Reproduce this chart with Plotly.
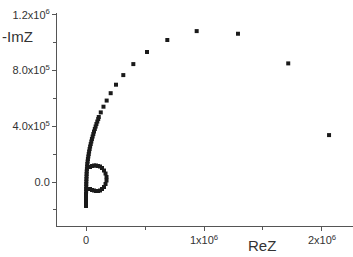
import plotly.graph_objects as go

# Low-frequency arc (discrete points), Re Z and -Im Z in ohm
arc_re = [2.06e6, 1.714e6, 1.288e6, 0.938e6, 0.689e6, 0.517e6, 0.401e6, 0.316e6,
          0.254e6, 0.209e6, 0.175e6, 0.148e6, 0.125e6, 0.108e6]
arc_im = [3.37e5, 8.52e5, 1.065e6, 1.084e6, 1.020e6, 0.934e6, 0.847e6, 0.768e6,
          0.699e6, 0.638e6, 0.585e6, 0.541e6, 0.500e6, 0.467e6]

# Dense high-frequency branch
dense_re = [103.4e3, 95.8e3, 88.1e3, 81.4e3, 74.6e3, 67.8e3, 61.9e3, 55.9e3, 50.0e3,
            44.9e3, 39.8e3, 34.7e3, 30.5e3, 26.3e3, 22.9e3, 19.5e3, 16.1e3, 13.6e3,
            11.0e3, 9.3e3, 7.6e3, 5.9e3, 5.1e3, 4.2e3, 3.4e3, 2.5e3, 1.7e3, 1.7e3,
            0.8e3, 0.8e3, 0.0, 0.0, 0.0, 0.0, 0.0, 0.0]
dense_im = [452.4e3, 434.5e3, 416.5e3, 398.5e3, 380.6e3, 362.6e3, 344.7e3, 326.7e3,
            308.8e3, 290.8e3, 272.9e3, 254.9e3, 237.0e3, 219.0e3, 201.1e3, 183.1e3,
            165.2e3, 147.2e3, 129.3e3, 111.3e3, 93.4e3, 75.4e3, 57.4e3, 39.5e3,
            21.5e3, 3.6e3, -14.4e3, -32.3e3, -50.3e3, -68.2e3, -86.2e3, -104.1e3,
            -122.1e3, -140.0e3, -158.0e3, -172.3e3]

# Small loop
loop_re = [33.9e3, 50.9e3, 67.8e3, 84.8e3, 101.7e3, 118.7e3, 135.6e3, 152.6e3,
           165.3e3, 173.7e3, 173.7e3, 165.3e3, 152.6e3, 135.6e3, 118.7e3, 101.7e3,
           84.8e3, 67.8e3, 50.9e3, 33.9e3]
loop_im = [107.7e3, 114.9e3, 118.5e3, 118.5e3, 114.9e3, 111.3e3, 100.5e3, 82.6e3,
           61.0e3, 35.9e3, 10.8e3, -14.4e3, -35.9e3, -50.3e3, -61.0e3, -64.6e3,
           -64.6e3, -61.0e3, -57.4e3, -50.3e3]

x_tickvals = [0, 1e6, 2e6]
x_ticktext = ["0", "1x10<sup>6</sup>", "2x10<sup>6</sup>"]
y_tickvals = [0, 4e5, 8e5, 1.2e6]
y_ticktext = ["0.0", "4.0x10<sup>5</sup>", "8.0x10<sup>5</sup>", "1.2x10<sup>6</sup>"]

re_all = arc_re + dense_re + loop_re
im_all = arc_im + dense_im + loop_im

fig = go.Figure()
fig.add_trace(go.Scatter(
    x=re_all, y=im_all, mode="markers",
    marker=dict(symbol="square", size=4, color="#1a1a1a", line=dict(width=0)),
    showlegend=False, hoverinfo="skip", cliponaxis=False))

axis_color = "#555555"
fam = "Liberation Sans, Arial, sans-serif"
font = dict(family=fam, size=11, color="#333333")

fig.update_layout(
    width=353, height=257,
    margin=dict(l=57, r=0, t=13, b=31, autoexpand=False),
    paper_bgcolor="white", plot_bgcolor="white",
    font=font,
    xaxis=dict(range=[-0.246e6, 2.263e6], showgrid=False, zeroline=False,
               automargin=False,
               showline=True, linecolor=axis_color, linewidth=1,
               ticks="outside", ticklen=4, tickcolor=axis_color,
               tickvals=x_tickvals, ticktext=x_ticktext,
               minor=dict(tickvals=[0.5e6, 1.5e6], ticks="outside", ticklen=3,
                          tickcolor=axis_color)),
    yaxis=dict(range=[-3.16e5, 1.214e6], showgrid=False, zeroline=False,
               automargin=False,
               showline=True, linecolor=axis_color, linewidth=1,
               ticks="outside", ticklen=4, tickcolor=axis_color,
               tickvals=y_tickvals, ticktext=y_ticktext,
               minor=dict(tickvals=[-2e5, 2e5, 6e5, 1e6], ticks="outside", ticklen=3,
                          tickcolor=axis_color)),
    annotations=[
        dict(text="-ImZ", xref="paper", yref="paper", x=-57/296, y=(226-36)/213,
             xanchor="left", yanchor="middle", showarrow=False,
             font=dict(family=fam, size=15, color="#333333")),
        dict(text="ReZ", xref="paper", yref="paper", x=(262-57)/296, y=-(245-226)/213,
             xanchor="center", yanchor="middle", showarrow=False,
             font=dict(family=fam, size=15, color="#333333")),
    ],
)

fig.write_html("out.html", config={"displayModeBar": False, "staticPlot": True},
               post_script="document.body.style.margin='0';document.body.style.padding='0';")
